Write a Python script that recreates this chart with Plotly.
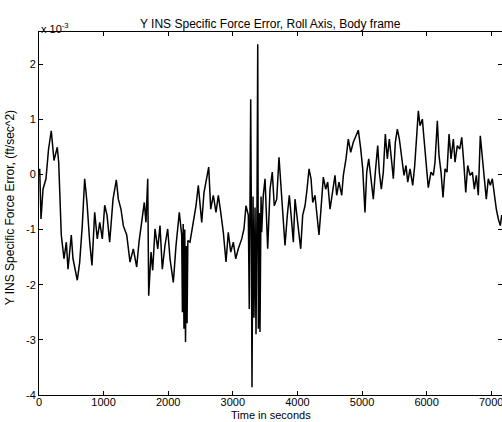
import plotly.graph_objects as go

# Time (s) and error (x 1e-3 ft/sec^2)
time_s = [11, 31, 62, 108, 147, 190, 232, 283, 305, 345, 387, 423, 449, 500, 526, 593, 630, 670, 707, 743,
          785, 820, 862, 902, 940, 980, 1017, 1053, 1094, 1146, 1197, 1228, 1269, 1305, 1358, 1409, 1460, 1512, 1548, 1590,
          1630, 1656, 1683, 1698, 1734, 1760, 1796, 1838, 1873, 1909, 1950, 1992, 2028, 2079, 2121, 2172, 2209,
          2220, 2232, 2244, 2256, 2268, 2280, 2292, 2304,
          2337, 2389, 2430, 2466, 2519, 2554, 2596, 2627, 2658, 2698, 2740, 2776, 2813, 2853, 2895, 2930, 2968, 3008, 3045,
          3085, 3138, 3173, 3204, 3240, 3255, 3277, 3286, 3297, 3313, 3328, 3344, 3359, 3375, 3386, 3396, 3411, 3421, 3437,
          3447, 3472, 3499, 3540, 3576, 3611, 3642, 3680, 3715, 3746, 3782, 3808, 3844, 3875, 3912, 3937, 3963, 3994, 4014,
          4051, 4082, 4118, 4149, 4180, 4211, 4237, 4272, 4303, 4334, 4365, 4401, 4438, 4469, 4505, 4540, 4582, 4608, 4644,
          4686, 4711, 4752, 4788, 4825, 4865, 4907, 4943, 4980, 5011, 5046, 5073, 5104, 5135, 5175, 5206, 5243, 5268, 5299,
          5330, 5361, 5392, 5423, 5460, 5485, 5516, 5547, 5578, 5615, 5650, 5681, 5708, 5743, 5785, 5816, 5847, 5872, 5898,
          5934, 5960, 6002, 6026, 6068, 6104, 6130, 6166, 6192, 6223, 6254, 6285, 6316, 6347, 6378, 6414, 6440, 6475, 6513,
          6544, 6575, 6606, 6636, 6672, 6708, 6739, 6770, 6800, 6831, 6862, 6893, 6924, 6955, 6986, 7017, 7048, 7079, 7110,
          7141, 7163, 7200]
error_e3 = [0.1, -0.81, -0.27, -0.08, 0.45, 0.79, 0.25, 0.49, 0.22, -1.1, -1.53, -1.23, -1.72, -1.1, -1.53, -1.92, -1.59, -0.93, -0.08, -0.51,
            -1.23, -1.65, -0.69, -1.17, -0.87, -1.17, -0.56, -0.74, -1.23, -0.45, -0.1, -0.45, -0.63, -0.93, -1.1, -1.59, -1.35, -1.68, -1.23, -0.81,
            -0.51, -0.87, -0.08, -2.2, -1.41, -1.74, -0.99, -1.35, -0.93, -1.72, -1.29, -0.99, -1.53, -1.96, -1.29, -0.69, -1.1,
            -2.5, -0.9, -2.8, -1.0, -3.04, -1.3, -2.7, -1.2,
            -1.23, -0.87, -0.57, -0.2, -0.87, -0.33, -0.08, 0.13, -0.63, -0.38, -0.69, -0.38, -0.69, -1.05, -1.59, -1.05, -1.41, -1.23, -1.53,
            -1.35, -1.17, -0.99, -0.57, -0.74, -2.44, 1.36, -0.5, -3.86, -0.4, -2.6, -0.6, -2.9, -0.5, 2.36, -2.8, -0.7, -2.86, -0.4,
            -1.05, -0.38, -0.08, -1.35, -0.27, 0.04, -0.57, -0.45, 0.31, -0.27, -0.99, -1.29, -0.74, -0.38, -0.87, -1.23, -0.45, -0.81, -1.05,
            -1.35, -0.74, -0.57, -0.27, 0.1, -0.08, -0.51, -0.38, -0.81, -1.1, -0.63, -0.05, -0.27, -0.14, -0.63, -0.38, -0.02, -0.38, -0.14,
            -0.38, -0.02, 0.28, 0.64, 0.4, 0.58, 0.7, 0.8, 0.46, 0.1, -0.69, 0.04, 0.28, -0.08, -0.45, 0.04, 0.52, 0.04, -0.27,
            0.04, 0.73, 0.28, 0.64, 0.22, -0.08, 0.58, 0.82, 0.64, 0.28, -0.02, 0.16, -0.14, 0.1, -0.2, 0.16, 0.82, 1.15, 0.88,
            1.0, 0.64, 0.04, -0.24, 0.04, -0.02, 0.22, 0.97, 0.34, 0.04, -0.42, 0.1, 0.04, 0.73, 0.28, 0.64, 0.22, 0.52, 0.46,
            0.67, 0.22, -0.33, 0.16, -0.02, 0.04, -0.27, -0.02, -0.38, 0.7, 0.28, -0.02, -0.45, -0.08, -0.2, -0.08, -0.38, -0.63, -0.81,
            -0.93, -0.74, -0.9]

x_ticks = [0, 1000, 2000, 3000, 4000, 5000, 6000, 7000]
y_ticks = [2, 1, 0, -1, -2, -3, -4]
y_tick_labels = ["2", "1", "0", "-1", "-2", "-3", "-4"]

font = "Liberation Sans, Arial, sans-serif"

fig = go.Figure(go.Scatter(x=time_s, y=error_e3, mode="lines",
                           line=dict(color="black", width=1.5), showlegend=False))

axis_common = dict(showline=True, linecolor="black", linewidth=1, mirror="ticks",
                   ticks="inside", ticklen=4, tickcolor="black", showgrid=False, zeroline=False,
                   ticklabeloverflow="allow",
                   tickfont=dict(family=font, size=11, color="black"))

fig.update_layout(
    width=502, height=422,
    margin=dict(l=39, r=0, t=32, b=27),
    paper_bgcolor="white", plot_bgcolor="white",
    xaxis=dict(range=[0, 7167], tickvals=x_ticks, ticklabelstandoff=-3, **axis_common),
    yaxis=dict(range=[-4, 2.58], tickvals=y_ticks, ticktext=y_tick_labels, **axis_common),
    annotations=[
        dict(text="Y INS Specific Force Error, Roll Axis, Body frame", xref="paper", yref="paper",
             x=0.5, y=1.0, yshift=17, showarrow=False, font=dict(family=font, size=12, color="black")),
        dict(text="x 10<sup>-3</sup>", xref="paper", yref="paper", x=0.0, xanchor="left", y=1.0, yshift=13,
             showarrow=False, font=dict(family=font, size=11, color="black")),
        dict(text="Y INS Specific Force Error, (ft/sec^2)", xref="paper", yref="paper", textangle=-90,
             x=-0.062, xanchor="center", y=0.515, showarrow=False, font=dict(family=font, size=12, color="black")),
        dict(text="Time in seconds", xref="paper", yref="paper", x=0.5, y=0, yanchor="top", yshift=-12,
             showarrow=False, font=dict(family=font, size=11, color="black")),
    ],
)

fig.write_html("out.html")
